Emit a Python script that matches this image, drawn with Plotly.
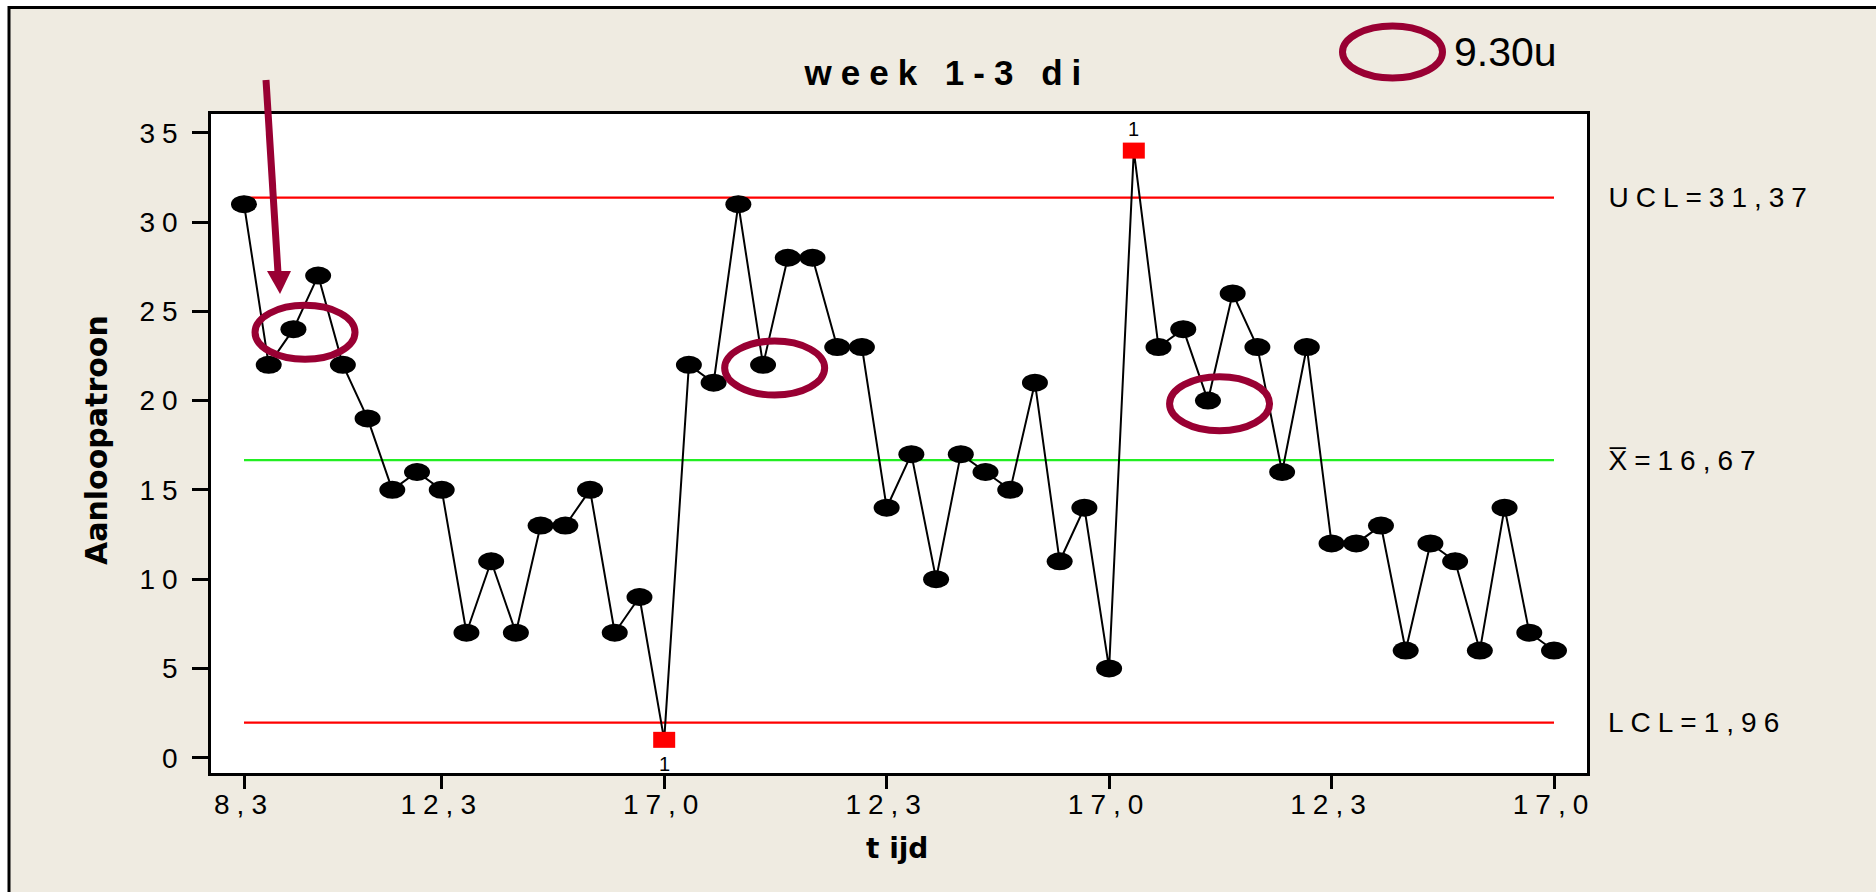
import unicodedata
import plotly.graph_objects as go

# Individuals chart of the waiting time per time slot, weeks 1-3 (Tuesdays)
values = [31, 22, 24, 27, 22, 19, 15, 16, 15, 7, 11, 7, 13, 13, 15, 7, 9, 1,
          22, 21, 31, 22, 28, 28, 23, 23, 14, 17, 10, 17, 16, 15, 21, 11, 14, 5,
          34, 23, 24, 20, 26, 23, 16, 23, 12, 12, 13, 6, 12, 11, 6, 14, 7, 6]
observations = list(range(1, len(values) + 1))

tick_positions = [1, 9, 18, 27, 36, 45, 54]
tick_labels = ["8,3", "12,3", "17,0", "12,3", "17,0", "12,3", "17,0"]
y_ticks = [0, 5, 10, 15, 20, 25, 30, 35]

ucl = 31.37
center_line = 16.67
lcl = 1.96
limit_values = [ucl, center_line, lcl]
limit_labels = ["UCL=31,37", "X\u0305=16,67", "LCL=1,96"]
limit_colors = ["#ff0000", "#22ee22", "#ff0000"]

highlighted = [3, 22, 40]          # observations circled in maroon
legend_text = "9.30u"
title_text = "week 1-3 di"
x_title = "t ijd"
y_title = "Aanloopatroon"

# ---- page geometry (pixels) ----
W, H = 1876, 892
PL, PR, PT, PB = 211, 1587, 114, 773
X_RANGE = [-0.335, 55.335]
Y_RANGE = [-0.857, 36.05]
XS = (PR - PL) / (X_RANGE[1] - X_RANGE[0])   # px per observation
YS = (PB - PT) / (Y_RANGE[1] - Y_RANGE[0])   # px per unit

MAROON = "#990033"
BEIGE = "#efebe1"
FONT = "Liberation Sans"
SPACING = 7          # extra letter spacing of tick and limit labels (px)
TITLE_SPACING = 9


def px(x):
    return (x - PL) / (PR - PL)


def py(y):
    return (PB - y) / (PB - PT)


def glyph_count(txt):
    return len([c for c in txt if not unicodedata.combining(c)])


out_of_control = [v > ucl or v < lcl for v in values]

fig = go.Figure()

# control limits and centre line
for val, col in zip(limit_values, limit_colors):
    fig.add_trace(go.Scatter(
        x=[observations[0], observations[-1]], y=[val, val], mode="lines",
        line=dict(color=col, width=2.3), hoverinfo="skip", showlegend=False))

# the individual observations
fig.add_trace(go.Scatter(
    x=observations, y=values, mode="lines+markers",
    line=dict(color="black", width=2),
    marker=dict(
        symbol=["square" if o else "circle" for o in out_of_control],
        color=["#ff0000" if o else "black" for o in out_of_control],
        size=[14 if o else 17 for o in out_of_control], line=dict(width=0)),
    showlegend=False))

shapes = []

# white page edge above and left of the framed beige panel
shapes.append(dict(type="rect", xref="paper", yref="paper", layer="below",
                   x0=px(-20), x1=px(9), y0=py(H + 20), y1=py(-20),
                   fillcolor="white", line=dict(width=0)))
shapes.append(dict(type="rect", xref="paper", yref="paper", layer="below",
                   x0=px(-20), x1=px(W + 20), y0=py(7.5), y1=py(-20),
                   fillcolor="white", line=dict(width=0)))
shapes.append(dict(type="line", xref="paper", yref="paper", layer="below",
                   x0=px(9), x1=px(W + 20), y0=py(7.5), y1=py(7.5),
                   line=dict(color="black", width=3)))
shapes.append(dict(type="line", xref="paper", yref="paper", layer="below",
                   x0=px(9), x1=px(9), y0=py(6), y1=py(H + 20),
                   line=dict(color="black", width=3)))

# oval point markers (wider than tall) and red squares for signals
mx, my = 13 / XS, 9 / YS
sx, sy = 11 / XS, 8 / YS
for xi, v, o in zip(observations, values, out_of_control):
    if o:
        shapes.append(dict(type="rect", xref="x", yref="y", x0=xi - sx, x1=xi + sx,
                           y0=v - sy, y1=v + sy, fillcolor="#ff0000", line=dict(width=0)))
    else:
        shapes.append(dict(type="circle", xref="x", yref="y", x0=xi - mx, x1=xi + mx,
                           y0=v - my, y1=v + my, fillcolor="black", line=dict(width=0)))

# maroon rings around the marked observations
rx, ry = 50 / XS, 27 / YS
dx, dy = 11.6 / XS, -3.2 / YS
for i in highlighted:
    cx, cy = observations[i - 1] + dx, values[i - 1] + dy
    shapes.append(dict(type="circle", xref="x", yref="y", x0=cx - rx, x1=cx + rx,
                       y0=cy - ry, y1=cy + ry, line=dict(color=MAROON, width=7)))

# key ring next to the time stamp
shapes.append(dict(type="circle", xref="paper", yref="paper",
                   x0=px(1342.5), x1=px(1442.5), y0=py(78), y1=py(26),
                   line=dict(color=MAROON, width=7)))

# arrow pointing at the first marked observation
shapes.append(dict(type="line", xref="paper", yref="paper",
                   x0=px(266), y0=py(80), x1=px(278), y1=py(273),
                   line=dict(color=MAROON, width=7)))
shapes.append(dict(type="path", xref="paper", yref="paper",
                   path="M {:.5f} {:.5f} L {:.5f} {:.5f} L {:.5f} {:.5f} Z".format(
                       px(267), py(271), px(291), py(271), px(280), py(294)),
                   fillcolor=MAROON, line=dict(width=0)))

annotations = []
spaced = []

# limit labels on the right (shifted to keep the spaced text left-aligned)
for val, txt in zip(limit_values, limit_labels):
    spaced.append(len(annotations))
    annotations.append(dict(x=px(1606), y=val, xref="paper", yref="y", text=txt,
                            xanchor="left", yanchor="middle", showarrow=False,
                            xshift=glyph_count(txt) * SPACING / 2,
                            font=dict(family=FONT, size=28, color="black")))

# signal markers "1"
for xi, v, o in zip(observations, values, out_of_control):
    if o:
        above = v > ucl
        annotations.append(dict(x=xi, y=v, xref="x", yref="y", text="1", showarrow=False,
                                yshift=22 if above else -24, xanchor="center",
                                yanchor="middle",
                                font=dict(family=FONT, size=20, color="black")))

# title
spaced_title = len(annotations)
annotations.append(dict(x=px(946.5), y=py(72), xref="paper", yref="paper", text=title_text,
                        xanchor="center", yanchor="middle", showarrow=False,
                        font=dict(family=FONT, size=35, color="black", weight="bold")))

# time stamp key
annotations.append(dict(x=px(1452), y=py(52), xref="paper", yref="paper", text=legend_text,
                        xanchor="left", yanchor="middle", showarrow=False,
                        font=dict(family=FONT, size=41, color="black")))

# axis titles
annotations.append(dict(x=px(96), y=py(440), xref="paper", yref="paper", text=y_title,
                        textangle=-90, xanchor="center", yanchor="middle", showarrow=False,
                        font=dict(family="DejaVu Sans", size=30, color="black",
                                  weight="bold")))
annotations.append(dict(x=px(897), y=py(848), xref="paper", yref="paper", text=x_title,
                        xanchor="center", yanchor="middle", showarrow=False,
                        font=dict(family="DejaVu Sans", size=28, color="black",
                                  weight="bold")))

fig.update_layout(
    width=W, height=H, autosize=False,
    margin=dict(l=PL, r=W - PR, t=PT, b=H - PB, pad=0),
    paper_bgcolor=BEIGE, plot_bgcolor="white",
    shapes=shapes, annotations=annotations, showlegend=False,
    xaxis=dict(range=X_RANGE, tickmode="array", tickvals=tick_positions,
               ticktext=tick_labels, ticks="outside", ticklen=13, tickwidth=2.5,
               tickcolor="black", showline=True, linewidth=2.5, linecolor="black",
               mirror=True, showgrid=False, zeroline=False, ticklabelstandoff=-8,
               tickfont=dict(family=FONT, size=28, color="black")),
    yaxis=dict(range=Y_RANGE, tickmode="array", tickvals=y_ticks,
               ticks="outside", ticklen=16, tickwidth=2.5, tickcolor="black",
               showline=True, linewidth=2.5, linecolor="black", mirror=True,
               showgrid=False, zeroline=False, ticklabelstandoff=2,
               tickfont=dict(family=FONT, size=28, color="black")),
)

# widen the letter spacing of the tick labels, limit labels and title
js = [
    "document.body.style.margin = '0';",
    "var gd = document.getElementById('{plot_id}');",
    "function spread(sel, amount) {",
    "  gd.querySelectorAll(sel).forEach(function (t) { t.style.letterSpacing = amount; });",
    "}",
    "spread('.xtick text', '%dpx');" % SPACING,
    "spread('.ytick text', '%dpx');" % SPACING,
]
for k in spaced:
    js.append("spread('g.annotation[data-index=\"%d\"] text', '%dpx');" % (k, SPACING))
js.append("spread('g.annotation[data-index=\"%d\"] text', '%dpx');"
          % (spaced_title, TITLE_SPACING))

fig.write_html("out.html", post_script="\n".join(js))
